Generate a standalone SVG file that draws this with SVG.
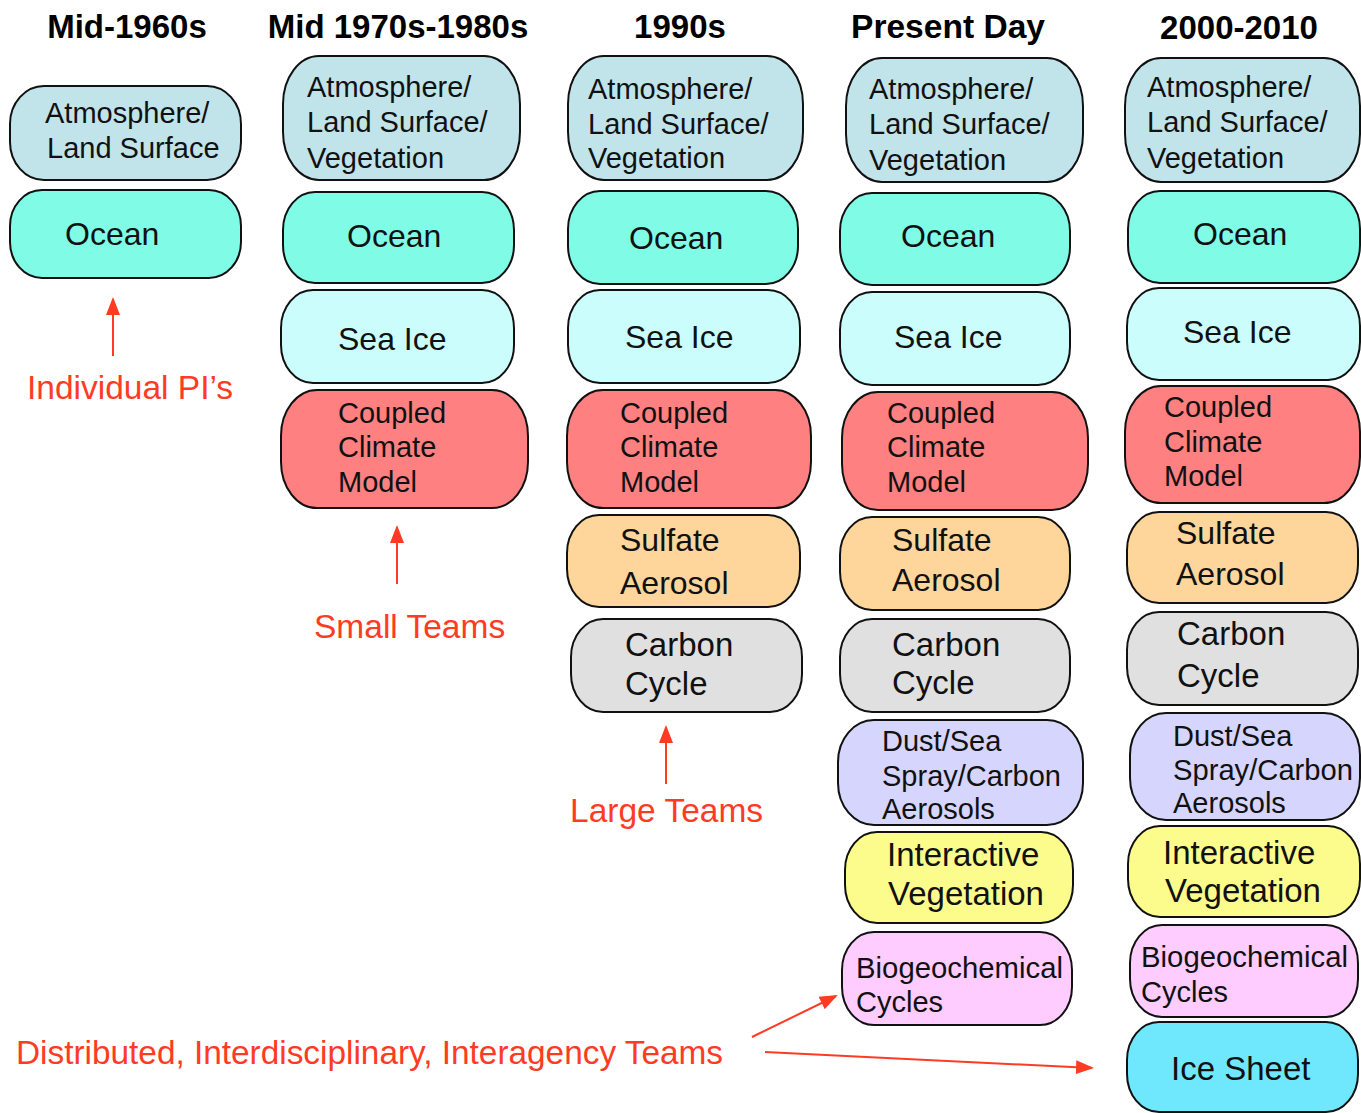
<svg xmlns="http://www.w3.org/2000/svg" width="1361" height="1113" viewBox="0 0 1361 1113">
  <style>
    .box { stroke: #111; stroke-width: 2; }
    .atm { fill: #c1e4eb; }
    .ocean { fill: #80fbe6; }
    .seaice { fill: #ccfdfd; }
    .ccm { fill: #fe8080; }
    .sulf { fill: #fed59b; }
    .carb { fill: #e0e0e0; }
    .dust { fill: #d5d5fd; }
    .veg { fill: #fcfc8d; }
    .bio { fill: #feccfe; }
    .ice { fill: #6fe8fd; }
    .hdr { font-family: "Liberation Sans", Arial, sans-serif; font-weight: bold; font-size: 33px; fill: #000; text-anchor: middle; }
    .t { font-family: "Liberation Sans", Arial, sans-serif; fill: #111; }
    .s28 { font-size: 29px; }
    .s31 { font-size: 32px; }
    .s32 { font-size: 33px; }
    .lbl { font-family: "Liberation Sans", Arial, sans-serif; font-size: 33.5px; fill: #ff3b24; }
    .arr { stroke: #ff3b24; stroke-width: 2; fill: none; marker-end: url(#head); }
  </style>
  <defs>
    <marker id="head" markerUnits="userSpaceOnUse" markerWidth="20" markerHeight="16" refX="16" refY="8" orient="auto">
      <path d="M0,1 L18,8 L0,15 Z" fill="#ff3b24"/>
    </marker>
  </defs>
  <rect width="1361" height="1113" fill="#fff"/>

  <!-- column headings -->
  <g id="headings">
    <text class="hdr" x="127" y="38">Mid-1960s</text>
    <text class="hdr" x="398" y="38">Mid 1970s-1980s</text>
    <text class="hdr" x="680" y="38">1990s</text>
    <text class="hdr" x="948" y="38" textLength="194" lengthAdjust="spacingAndGlyphs">Present Day</text>
    <text class="hdr" x="1239" y="39">2000-2010</text>
  </g>

  <!-- Mid-1960s -->
  <g id="c1-atm"><rect class="box atm" x="10" y="86" width="231" height="94" rx="34" ry="38"/>
    <text class="t s28" x="45" y="123">Atmosphere/</text><text class="t s28" x="47" y="158">Land Surface</text></g>
  <g id="c1-ocean"><rect class="box ocean" x="10" y="190" width="231" height="88" rx="32" ry="36"/>
    <text class="t s31" x="65" y="245">Ocean</text></g>

  <!-- Mid 1970s-1980s -->
  <g id="c2-atm"><rect class="box atm" x="283" y="56" width="237" height="124" rx="36" ry="48"/>
    <text class="t s28" x="307" y="97">Atmosphere/</text><text class="t s28" x="307" y="132">Land Surface/</text><text class="t s28" x="307" y="168">Vegetation</text></g>
  <g id="c2-ocean"><rect class="box ocean" x="283" y="192" width="231" height="91" rx="32" ry="38"/>
    <text class="t s31" x="347" y="247">Ocean</text></g>
  <g id="c2-seaice"><rect class="box seaice" x="281" y="290" width="233" height="93" rx="32" ry="38"/>
    <text class="t s31" x="338" y="350">Sea Ice</text></g>
  <g id="c2-ccm"><rect class="box ccm" x="281" y="390" width="247" height="118" rx="36" ry="46"/>
    <text class="t s28" x="338" y="423">Coupled</text><text class="t s28" x="338" y="457">Climate</text><text class="t s28" x="338" y="492">Model</text></g>

  <!-- 1990s -->
  <g id="c3-atm"><rect class="box atm" x="568" y="56" width="235" height="124" rx="36" ry="48"/>
    <text class="t s28" x="588" y="99">Atmosphere/</text><text class="t s28" x="588" y="134">Land Surface/</text><text class="t s28" x="588" y="168">Vegetation</text></g>
  <g id="c3-ocean"><rect class="box ocean" x="568" y="191" width="230" height="93" rx="32" ry="38"/>
    <text class="t s31" x="629" y="249">Ocean</text></g>
  <g id="c3-seaice"><rect class="box seaice" x="568" y="290" width="232" height="93" rx="32" ry="38"/>
    <text class="t s31" x="625" y="348">Sea Ice</text></g>
  <g id="c3-ccm"><rect class="box ccm" x="567" y="390" width="244" height="118" rx="36" ry="46"/>
    <text class="t s28" x="620" y="423">Coupled</text><text class="t s28" x="620" y="457">Climate</text><text class="t s28" x="620" y="492">Model</text></g>
  <g id="c3-sulfate"><rect class="box sulf" x="567" y="515" width="233" height="92" rx="32" ry="38"/>
    <text class="t s31" x="620" y="551">Sulfate</text><text class="t s31" x="620" y="594">Aerosol</text></g>
  <g id="c3-carbon"><rect class="box carb" x="571" y="619" width="231" height="93" rx="32" ry="38"/>
    <text class="t s32" x="625" y="656">Carbon</text><text class="t s32" x="625" y="695">Cycle</text></g>

  <!-- Present Day -->
  <g id="c4-atm"><rect class="box atm" x="846" y="58" width="237" height="124" rx="36" ry="48"/>
    <text class="t s28" x="869" y="99">Atmosphere/</text><text class="t s28" x="869" y="134">Land Surface/</text><text class="t s28" x="869" y="170">Vegetation</text></g>
  <g id="c4-ocean"><rect class="box ocean" x="840" y="193" width="230" height="92" rx="32" ry="38"/>
    <text class="t s31" x="901" y="247">Ocean</text></g>
  <g id="c4-seaice"><rect class="box seaice" x="840" y="292" width="230" height="93" rx="32" ry="38"/>
    <text class="t s31" x="894" y="348">Sea Ice</text></g>
  <g id="c4-ccm"><rect class="box ccm" x="842" y="392" width="246" height="118" rx="36" ry="46"/>
    <text class="t s28" x="887" y="423">Coupled</text><text class="t s28" x="887" y="457">Climate</text><text class="t s28" x="887" y="492">Model</text></g>
  <g id="c4-sulfate"><rect class="box sulf" x="840" y="517" width="230" height="93" rx="32" ry="38"/>
    <text class="t s31" x="892" y="551">Sulfate</text><text class="t s31" x="892" y="591">Aerosol</text></g>
  <g id="c4-carbon"><rect class="box carb" x="840" y="619" width="230" height="93" rx="32" ry="38"/>
    <text class="t s32" x="892" y="656">Carbon</text><text class="t s32" x="892" y="694">Cycle</text></g>
  <g id="c4-dust"><rect class="box dust" x="838" y="720" width="245" height="105" rx="36" ry="42"/>
    <text class="t s28" x="882" y="751">Dust/Sea</text><text class="t s28" x="882" y="786">Spray/Carbon</text><text class="t s28" x="882" y="819">Aerosols</text></g>
  <g id="c4-veg"><rect class="box veg" x="845" y="832" width="228" height="91" rx="32" ry="38"/>
    <text class="t s32" x="887" y="866">Interactive</text><text class="t s32" x="888" y="905">Vegetation</text></g>
  <g id="c4-bio"><rect class="box bio" x="842" y="932" width="230" height="93" rx="32" ry="38"/>
    <text class="t s28" x="856" y="978" textLength="207" lengthAdjust="spacingAndGlyphs">Biogeochemical</text><text class="t s28" x="856" y="1012">Cycles</text></g>

  <!-- 2000-2010 -->
  <g id="c5-atm"><rect class="box atm" x="1125" y="58" width="235" height="124" rx="36" ry="48"/>
    <text class="t s28" x="1147" y="97">Atmosphere/</text><text class="t s28" x="1147" y="132">Land Surface/</text><text class="t s28" x="1147" y="168">Vegetation</text></g>
  <g id="c5-ocean"><rect class="box ocean" x="1128" y="191" width="232" height="92" rx="32" ry="38"/>
    <text class="t s31" x="1193" y="245">Ocean</text></g>
  <g id="c5-seaice"><rect class="box seaice" x="1127" y="288" width="233" height="92" rx="32" ry="38"/>
    <text class="t s31" x="1183" y="343">Sea Ice</text></g>
  <g id="c5-ccm"><rect class="box ccm" x="1125" y="386" width="235" height="117" rx="36" ry="46"/>
    <text class="t s28" x="1164" y="417">Coupled</text><text class="t s28" x="1164" y="452">Climate</text><text class="t s28" x="1164" y="486">Model</text></g>
  <g id="c5-sulfate"><rect class="box sulf" x="1127" y="512" width="231" height="91" rx="32" ry="38"/>
    <text class="t s31" x="1176" y="544">Sulfate</text><text class="t s31" x="1176" y="585">Aerosol</text></g>
  <g id="c5-carbon"><rect class="box carb" x="1127" y="612" width="231" height="93" rx="32" ry="38"/>
    <text class="t s32" x="1177" y="645">Carbon</text><text class="t s32" x="1177" y="687">Cycle</text></g>
  <g id="c5-dust"><rect class="box dust" x="1130" y="713" width="230" height="107" rx="36" ry="42"/>
    <text class="t s28" x="1173" y="746">Dust/Sea</text><text class="t s28" x="1173" y="780" textLength="180" lengthAdjust="spacingAndGlyphs">Spray/Carbon</text><text class="t s28" x="1173" y="813">Aerosols</text></g>
  <g id="c5-veg"><rect class="box veg" x="1128" y="826" width="232" height="91" rx="32" ry="38"/>
    <text class="t s32" x="1163" y="864">Interactive</text><text class="t s32" x="1165" y="902">Vegetation</text></g>
  <g id="c5-bio"><rect class="box bio" x="1130" y="925" width="228" height="92" rx="32" ry="38"/>
    <text class="t s28" x="1141" y="967" textLength="207" lengthAdjust="spacingAndGlyphs">Biogeochemical</text><text class="t s28" x="1141" y="1002">Cycles</text></g>
  <g id="c5-icesheet"><rect class="box ice" x="1127" y="1022" width="231" height="90" rx="32" ry="38"/>
    <text class="t s32" x="1171" y="1080">Ice Sheet</text></g>

  <!-- team labels -->
  <g id="labels">
    <text class="lbl" x="27" y="399">Individual PI’s</text>
    <text class="lbl" x="314" y="638">Small Teams</text>
    <text class="lbl" x="570" y="822">Large Teams</text>
    <text class="lbl" x="16" y="1064" textLength="707" lengthAdjust="spacingAndGlyphs">Distributed, Interdisciplinary, Interagency Teams</text>
  </g>

  <!-- arrows -->
  <g id="connectors">
    <line class="arr" x1="113" y1="356" x2="113" y2="299"/>
    <line class="arr" x1="397" y1="584" x2="397" y2="527"/>
    <line class="arr" x1="666" y1="784" x2="666" y2="727"/>
    <line class="arr" x1="752" y1="1037" x2="836" y2="996"/>
    <line class="arr" x1="765" y1="1052" x2="1092" y2="1068"/>
  </g>
</svg>
